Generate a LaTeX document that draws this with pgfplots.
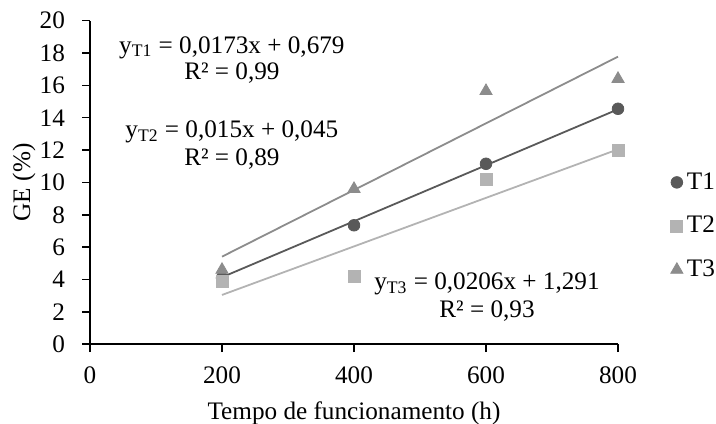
\documentclass[border=0pt]{standalone}
\usepackage{fontspec}
\setmainfont{Liberation Serif}
\usepackage{pgfplots}
\pgfplotsset{compat=1.18}
\newcommand\fs{\fontsize{12.6pt}{15pt}\selectfont}
\definecolor{cTa}{HTML}{595959}
\definecolor{cTb}{HTML}{B3B3B3}
\definecolor{cTc}{HTML}{8C8C8C}
\begin{document}
\begin{tikzpicture}[font=\fs]
\begin{axis}[name=ax, scale only axis, width=264pt, height=161.8pt,
  xmin=0, xmax=800, ymin=0, ymax=20,
  xtick={0,200,...,800}, ytick={0,2,...,20},
  axis x line*=bottom, axis y line*=left,
  axis line style={black, line width=0.8pt, -},
  tick align=outside, major tick length=4pt,
  tick style={black, line width=0.8pt},
  /pgf/number format/assume math mode=true,
  ticklabel style={font=\fs},
  yticklabel style={xshift=-5pt},
  xticklabel style={yshift=-3.5pt},
  xlabel={Tempo de funcionamento (h)},
  xlabel style={at={(axis description cs:0.5,-0.2318)}, anchor=base, font=\fs},
  ylabel={GE (\%)},
  ylabel style={at={(axis description cs:-0.1136,0.5)}, anchor=base, rotate=0, font=\fs},
  clip=false,
  legend style={draw=none, fill=none, inner sep=0pt, outer sep=0pt,
    at={(axis description cs:1.1,0.365)}, anchor=west, row sep=8pt,
    font=\fs, nodes={inner sep=2pt}},
  legend cell align=left,
  legend image code/.code={\draw[#1] plot coordinates {(1pt,0pt)};},
]
% linhas de tendencia
\addplot[forget plot, cTa, line width=0.9pt] coordinates {(200,4.139) (800,14.519)};
\addplot[forget plot, cTb, line width=0.9pt] coordinates {(200,3.045) (800,12.045)};
\addplot[forget plot, cTc, line width=0.9pt] coordinates {(200,5.411) (800,17.771)};
% dados
\addplot[only marks, mark=*, mark size=2.9pt, color=cTa] coordinates {(200,4.1) (400,7.35) (600,11.15) (800,14.55)};
\addlegendentry{T1}
\addplot[only marks, mark=square*, mark size=3pt, color=cTb] coordinates {(200,3.9) (400,4.2) (600,10.2) (800,11.95)};
\addlegendentry{T2}
\addplot[only marks, mark=triangle*, mark size=3.5pt, color=cTc] coordinates {(200,4.6) (400,9.6) (600,15.65) (800,16.4)};
\addlegendentry{T3}
% equacoes
\node[anchor=base] at (axis cs:215,17.99) {y\textsubscript{T1} = 0,0173x + 0,679};
\node[anchor=base] at (axis cs:215,16.33) {R² = 0,99};
\node[anchor=base] at (axis cs:215,12.75) {y\textsubscript{T2} = 0,015x + 0,045};
\node[anchor=base] at (axis cs:215,11.04) {R² = 0,89};
\node[anchor=base] at (axis cs:601.5,3.36) {y\textsubscript{T3} = 0,0206x + 1,291};
\node[anchor=base] at (axis cs:601.5,1.63) {R² = 0,93};
\end{axis}
\pgfresetboundingbox
\path ([shift={(-45pt,-39.5pt)}]ax.south west) rectangle ([shift={(49pt,10.3pt)}]ax.north east);
\end{tikzpicture}
\end{document}
